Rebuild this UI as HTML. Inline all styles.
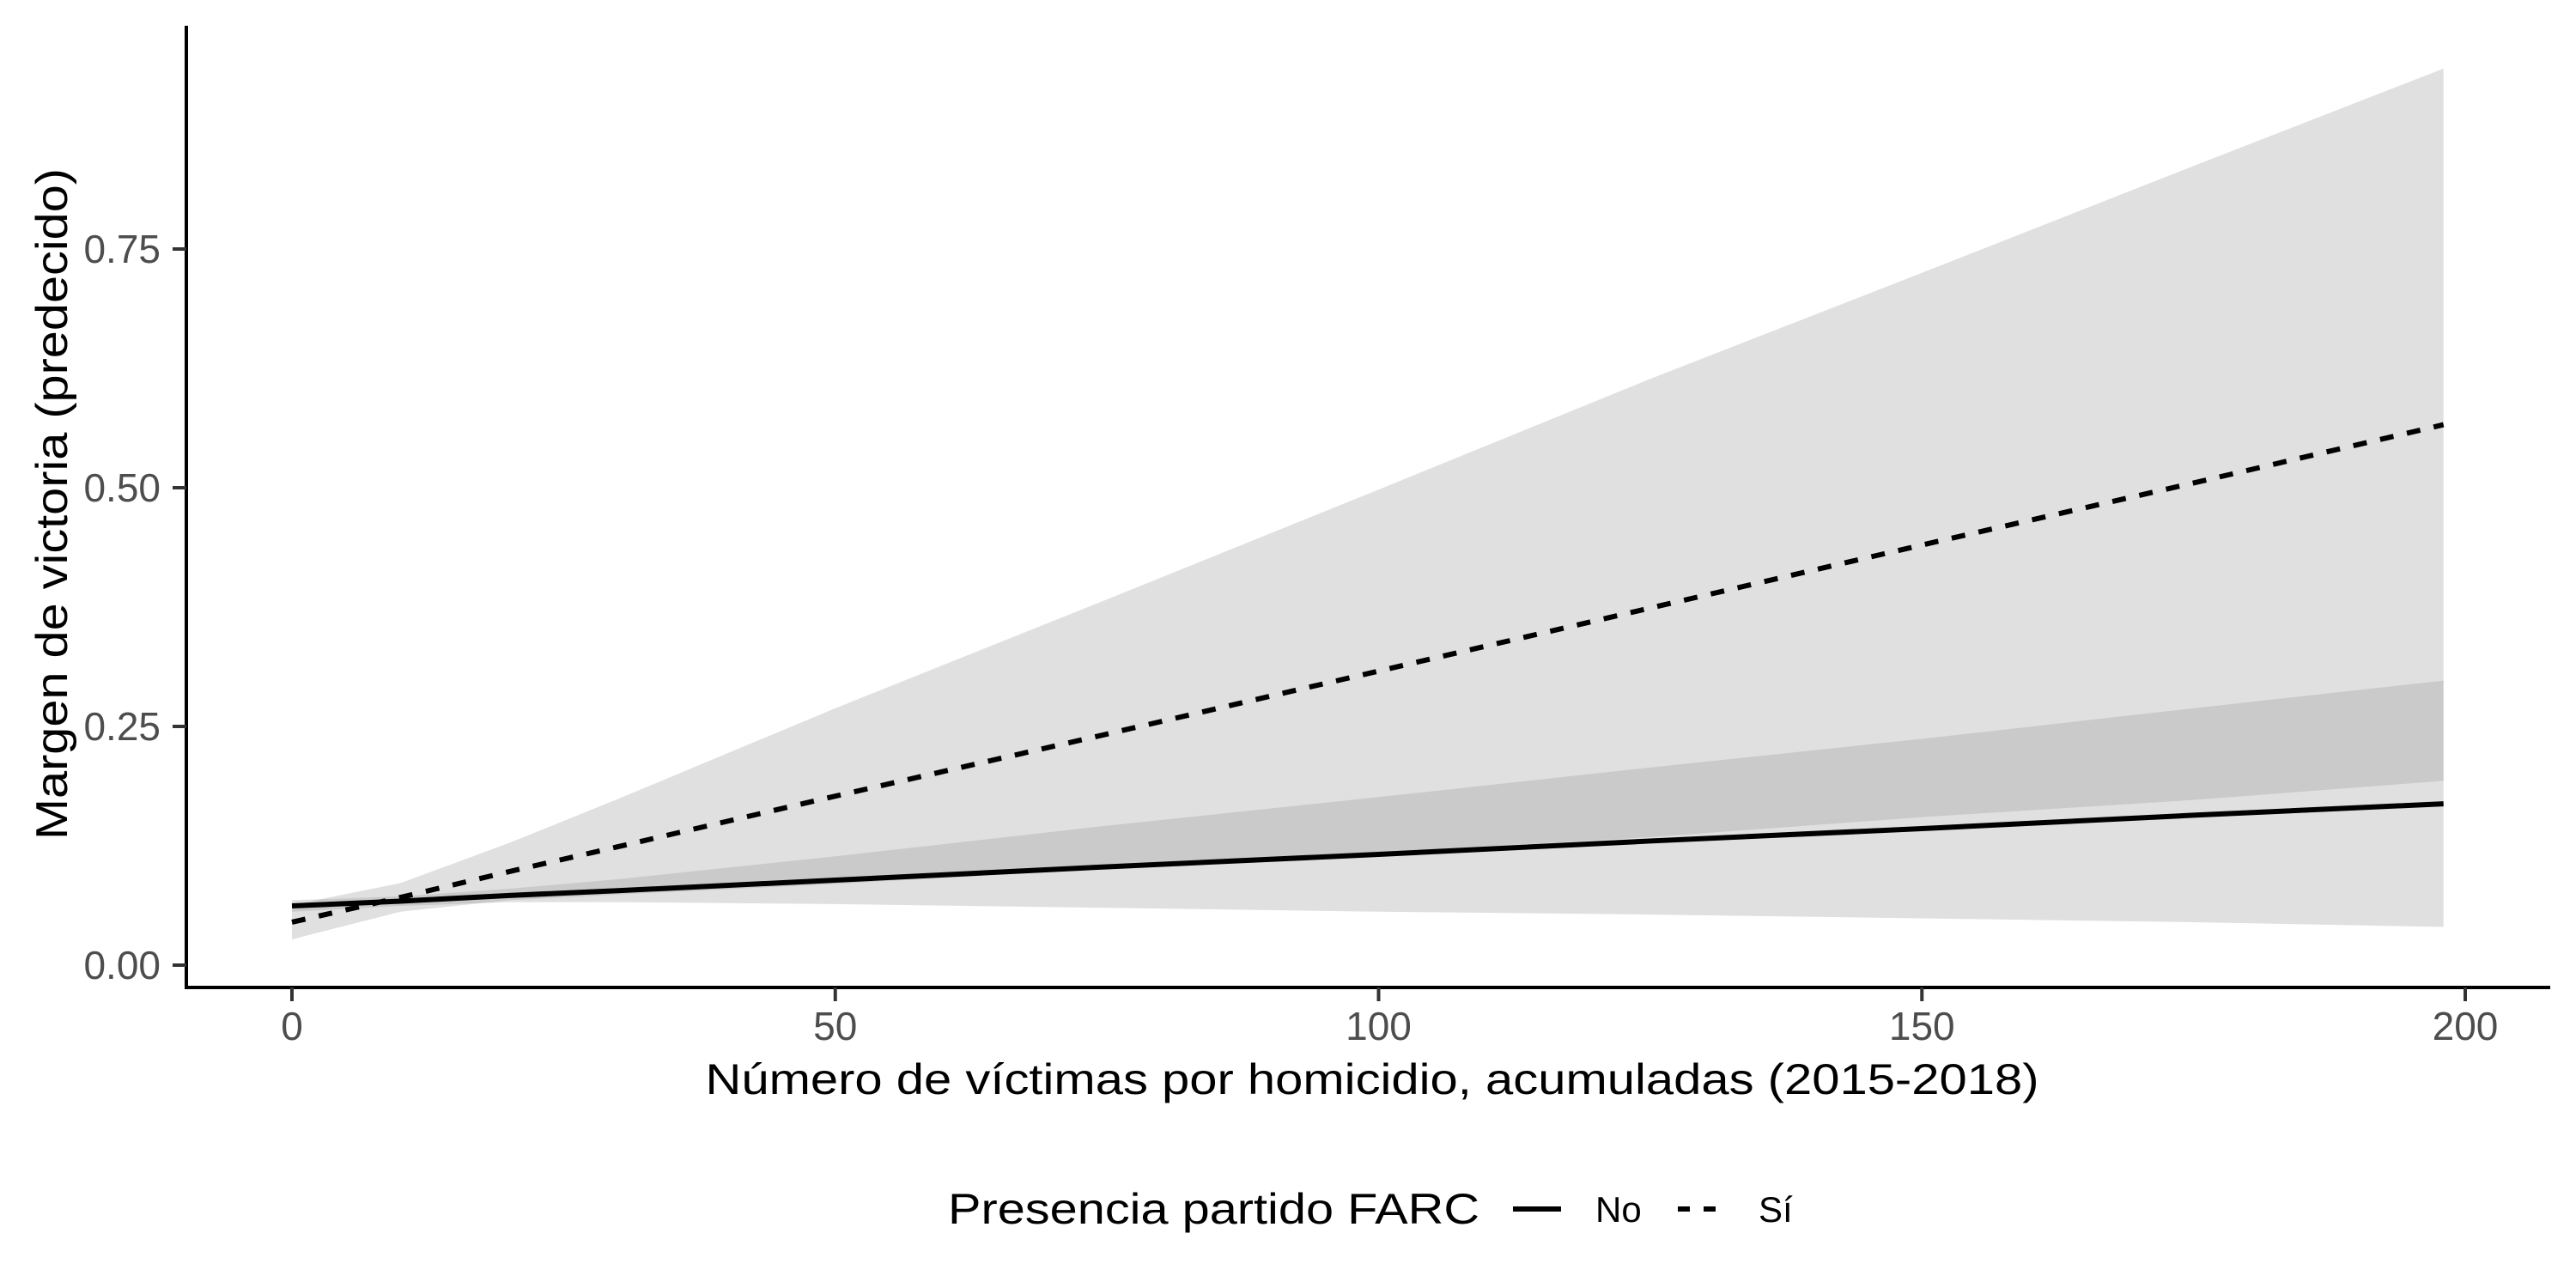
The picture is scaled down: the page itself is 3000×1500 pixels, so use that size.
<!DOCTYPE html>
<html><head><meta charset="utf-8"><style>
html,body{margin:0;padding:0;background:#fff;}
svg{display:block;font-family:"Liberation Sans",Arial,sans-serif;}
</style></head><body>
<svg id="chart" width="3000" height="1500" viewBox="0 0 3000 1500" xmlns="http://www.w3.org/2000/svg">
<rect width="3000" height="1500" fill="#fff"/>
<g id="ribbons"></g>
<g id="lines"></g>
<g id="axes"></g>
<text x="1598" y="1274" font-size="50" text-anchor="middle" textLength="1553" lengthAdjust="spacingAndGlyphs" fill="#000">Número de víctimas por homicidio, acumuladas (2015-2018)</text>
<text transform="translate(78,587) rotate(-90)" font-size="52" text-anchor="middle" textLength="782" lengthAdjust="spacingAndGlyphs" fill="#000">Margen de victoria (predecido)</text>
<g>
<text x="1104" y="1425" font-size="50" textLength="619" lengthAdjust="spacingAndGlyphs" fill="#000">Presencia partido FARC</text>
<g>
<line x1="1762" y1="1408" x2="1818" y2="1408" stroke="#000" stroke-width="6"/>
<text x="1858" y="1423" font-size="42" fill="#000">No</text>
</g>
<g>
<line x1="1954" y1="1408" x2="2000" y2="1408" stroke="#000" stroke-width="6" stroke-dasharray="14 16"/>
<text x="2048" y="1423" font-size="42" fill="#000">Sí</text>
</g>
</g>
</svg>
<script>
const xs = [0,10,20,30,50,75,100,125,150,175,198];
const siFit = [0.045,0.071,0.098,0.124,0.177,0.242,0.308,0.374,0.440,0.505,0.566];
const siHalf = [0.018,0.015,0.030,0.050,0.092,0.141,0.190,0.240,0.285,0.332,0.373];
const noFit = [0.062,0.067,0.073,0.078,0.089,0.103,0.116,0.130,0.143,0.157,0.169];
const noHalf = [0.006,0.005,0.007,0.012,0.025,0.043,0.060,0.077,0.094,0.112,0.129];
const xTicks = [0,50,100,150,200];
const yTicks = [0,0.25,0.5,0.75];
const yTickLabels = ["0.00","0.25","0.50","0.75"];

const NS = "http://www.w3.org/2000/svg";
function sx(v){ return 340 + v*(2871-340)/200; }
function sy(v){ return 1124 - v*(1124-290)/0.75; }
function mk(tag, attrs, parent){
  const e = document.createElementNS(NS, tag);
  for (const k in attrs) e.setAttribute(k, attrs[k]);
  parent.appendChild(e); return e;
}
const rib = document.getElementById('ribbons');
const lin = document.getElementById('lines');
const ax = document.getElementById('axes');

function ribbon(fit, half, name){
  const up = xs.map((x,i)=>sx(x)+','+sy(fit[i]+half[i]));
  const lo = xs.map((x,i)=>sx(x)+','+sy(fit[i]-half[i])).reverse();
  const p = mk('polygon', {points: up.concat(lo).join(' '), fill:'#999999', 'fill-opacity':'0.3'}, rib);
  
  
}
ribbon(noFit, noHalf, 'ribbon-no');
ribbon(siFit, siHalf, 'ribbon-si');

const l1 = mk('polyline', {points: xs.map((x,i)=>sx(x)+','+sy(noFit[i])).join(' '), fill:'none', stroke:'#000', 'stroke-width':'6'}, lin);


const l2 = mk('polyline', {points: xs.map((x,i)=>sx(x)+','+sy(siFit[i])).join(' '), fill:'none', stroke:'#000', 'stroke-width':'6', 'stroke-dasharray':'16 16'}, lin);



const ya = mk('line', {x1:217, y1:30, x2:217, y2:1152, stroke:'#000', 'stroke-width':'4'}, ax);


const xa = mk('line', {x1:215, y1:1150, x2:2970, y2:1150, stroke:'#000', 'stroke-width':'4'}, ax);



yTicks.forEach((v,i)=>{
  const t = mk('line', {x1:201, y1:sy(v), x2:217, y2:sy(v), stroke:'#333', 'stroke-width':'4'}, ax);
  
  
  const tx = mk('text', {x:187, y:sy(v)+16, 'font-size':'46', 'text-anchor':'end', fill:'#4d4d4d'}, ax);
  tx.textContent = yTickLabels[i];
  
  
});
xTicks.forEach(v=>{
  const t = mk('line', {x1:sx(v), y1:1150, x2:sx(v), y2:1166, stroke:'#333', 'stroke-width':'4'}, ax);
  
  
  const tx = mk('text', {x:sx(v), y:1211, 'font-size':'46', 'text-anchor':'middle', fill:'#4d4d4d'}, ax);
  tx.textContent = String(v);
  
  
});
</script>
</body></html>
